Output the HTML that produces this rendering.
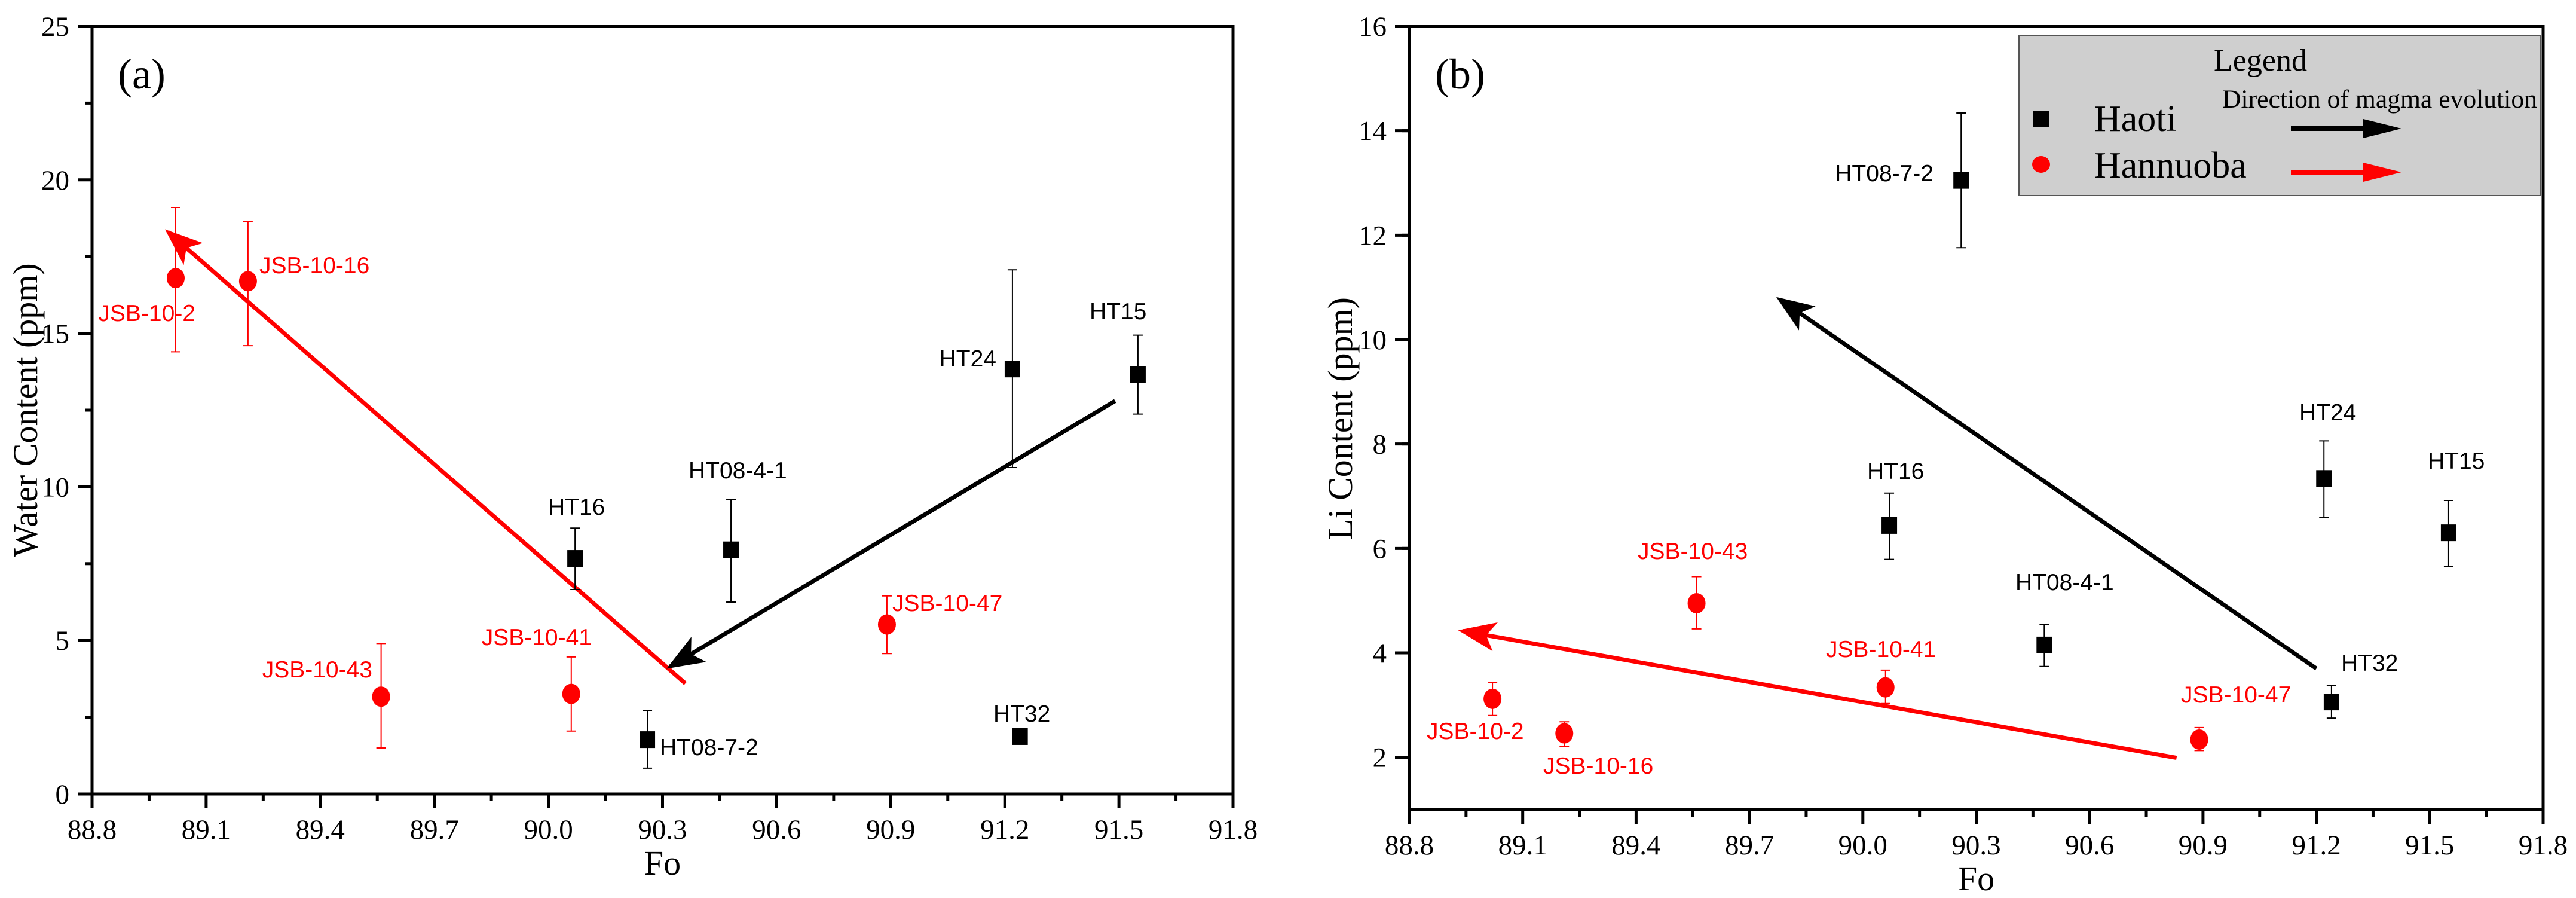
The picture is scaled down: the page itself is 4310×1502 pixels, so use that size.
<!DOCTYPE html>
<html><head><meta charset="utf-8">
<style>
html,body{margin:0;padding:0;background:#fff;}
svg{display:block;}
</style></head>
<body>
<svg id="fig" width="4310" height="1502" viewBox="0 0 4310 1502" xmlns="http://www.w3.org/2000/svg">
<defs>
<marker id="ahB" markerWidth="9" markerHeight="7" refX="8" refY="3.5" orient="auto" markerUnits="strokeWidth"><path d="M0,0 L9,3.5 L0,7 L2.2,3.5 Z" fill="#000"/></marker>
<marker id="ahR" markerWidth="9" markerHeight="7" refX="8" refY="3.5" orient="auto" markerUnits="strokeWidth"><path d="M0,0 L9,3.5 L0,7 L2.2,3.5 Z" fill="#f00"/></marker>
</defs>
</svg>
<script>
// ---- data ----
const xTicks = [88.8, 89.1, 89.4, 89.7, 90.0, 90.3, 90.6, 90.9, 91.2, 91.5, 91.8];
const xTickLabels = ["88.8","89.1","89.4","89.7","90.0","90.3","90.6","90.9","91.2","91.5","91.8"];
const waterTicks = [0, 5, 10, 15, 20, 25];
const liTicks = [2, 4, 6, 8, 10, 12, 14, 16];

const hannNames = ["JSB-10-2","JSB-10-16","JSB-10-43","JSB-10-41","JSB-10-47"];
const hannFo = [89.02, 89.21, 89.56, 90.06, 90.89];
const hannWater = [16.8, 16.7, 3.17, 3.26, 5.52];
const hannWaterHi = [19.1, 18.65, 4.9, 4.46, 6.45];
const hannWaterLo = [14.4, 14.6, 1.5, 2.05, 4.57];
const hannLi = [3.12, 2.46, 4.95, 3.34, 2.34];
const hannLiHi = [3.43, 2.68, 5.46, 3.67, 2.57];
const hannLiLo = [2.80, 2.21, 4.46, 3.03, 2.13];

const haotiNames = ["HT16","HT08-4-1","HT08-7-2","HT24","HT15","HT32"];
const haotiFo = [90.07, 90.48, 90.26, 91.22, 91.55, 91.24];
const haotiWater = [7.67, 7.95, 1.77, 13.84, 13.66, 1.87];
const haotiWaterHi = [8.66, 9.6, 2.72, 17.07, 14.94, 1.87];
const haotiWaterLo = [6.66, 6.25, 0.84, 10.63, 12.37, 1.87];
const haotiLi = [6.44, 4.15, 13.05, 7.34, 6.30, 3.06];
const haotiLiHi = [7.06, 4.55, 14.34, 8.06, 6.92, 3.37];
const haotiLiLo = [5.79, 3.74, 11.76, 6.59, 5.66, 2.75];

// arrows [x0,y0,x1(tip),y1]
const waterRedArrow = [90.36, 3.6, 89.0, 18.3];
const waterBlackArrow = [91.49, 12.8, 90.32, 4.15];
const liBlackArrow = [91.20, 3.70, 89.78, 10.77];
const liRedArrow = [90.83, 1.99, 88.94, 4.42];

// ---- drawing ----
const svg = document.getElementById('fig');
const NS = 'http://www.w3.org/2000/svg';
const SERIF = '"Liberation Serif", "Times New Roman", serif';
const SANS = '"Liberation Sans", Arial, sans-serif';
function mk(tag, attrs, parent){
  const e = document.createElementNS(NS, tag);
  for (const k in attrs) e.setAttribute(k, attrs[k]);
  (parent||svg).appendChild(e);
  return e;
}

function panel(cfg){
  const g = mk('g', {});
  
  
  const sx = v => cfg.x0 + (v - 88.8) / 3.0 * (cfg.x1 - cfg.x0);
  const sy = v => cfg.y1 - (v - cfg.ymin) / (cfg.ymax - cfg.ymin) * (cfg.y1 - cfg.y0);

  const fr = mk('rect', {x:cfg.x0, y:cfg.y0, width:cfg.x1-cfg.x0, height:cfg.y1-cfg.y0, fill:'none', stroke:'#000', 'stroke-width':5}, g);
  
  

  xTicks.forEach((t,i)=>{
    const x = sx(t);
    mk('line', {x1:x, y1:cfg.y1, x2:x, y2:cfg.y1+24, stroke:'#000','stroke-width':5}, g);
    const tl = mk('text', {x:x, y:cfg.y1+75, 'text-anchor':'middle', 'font-family':SERIF, 'font-size':47, fill:'#000'}, g);
    tl.textContent = xTickLabels[i];
    
    
    if (i < xTicks.length-1){
      const xm = sx(t + 0.15);
      mk('line', {x1:xm, y1:cfg.y1, x2:xm, y2:cfg.y1+12, stroke:'#000','stroke-width':5}, g);
    }
  });
  cfg.yTicks.forEach((t,i)=>{
    const y = sy(t);
    mk('line', {x1:cfg.x0-24, y1:y, x2:cfg.x0, y2:y, stroke:'#000','stroke-width':5}, g);
    const tl = mk('text', {x:cfg.x0-38, y:y+16, 'text-anchor':'end', 'font-family':SERIF, 'font-size':47, fill:'#000'}, g);
    tl.textContent = String(t);
    
    
  });
  for (let v = cfg.ymin + cfg.minor; v < cfg.ymax; v += cfg.minor*2){
    if (v <= cfg.ymin) continue;
    const y = sy(v);
    mk('line', {x1:cfg.x0-12, y1:y, x2:cfg.x0, y2:y, stroke:'#000','stroke-width':5}, g);
  }

  const xt = mk('text', {x:(cfg.x0+cfg.x1)/2, y:cfg.y1+135, 'text-anchor':'middle', 'font-family':SERIF, 'font-size':58, fill:'#000'}, g);
  xt.textContent = 'Fo';
  
  
  const yt = mk('text', {x:0, y:0, 'text-anchor':'middle', 'font-family':SERIF, 'font-size':58, fill:'#000', transform:`translate(${cfg.ytx},${cfg.yty}) rotate(-90)`}, g);
  yt.textContent = cfg.ytitle;
  
  
  const pl = mk('text', {x:cfg.x0+43, y:cfg.y0+104, 'font-family':SERIF, 'font-size':72, fill:'#000'}, g);
  pl.textContent = cfg.letter;
  
  

  [[cfg.redArrow,'#f00','url(#ahR)','red-arrow'],[cfg.blackArrow,'#000','url(#ahB)','black-arrow']].forEach(a=>{
    const d = a[0];
    const ln = mk('line', {x1:sx(d[0]), y1:sy(d[1]), x2:sx(d[2]), y2:sy(d[3]), stroke:a[1], 'stroke-width':7, 'marker-end':a[2]}, g);
    
    
  });

  function series(fo, val, hi, lo, names, color, shape, labelPos){
    fo.forEach((f,i)=>{
      const x = sx(f);
      if (hi[i] !== lo[i]){
        mk('line', {x1:x, y1:sy(hi[i]), x2:x, y2:sy(lo[i]), stroke:color, 'stroke-width':2}, g);
        mk('line', {x1:x-8, y1:sy(hi[i]), x2:x+8, y2:sy(hi[i]), stroke:color, 'stroke-width':2}, g);
        mk('line', {x1:x-8, y1:sy(lo[i]), x2:x+8, y2:sy(lo[i]), stroke:color, 'stroke-width':2}, g);
      }
      let m;
      if (shape === 'sq'){
        m = mk('rect', {x:x-13, y:sy(val[i])-14, width:26, height:28, fill:color}, g);
      } else {
        m = mk('ellipse', {cx:x, cy:sy(val[i]), rx:15, ry:17, fill:color}, g);
      }
      
      
      const lp = labelPos[i];
      const t = mk('text', {x:lp[0], y:lp[1], 'text-anchor':lp[2], 'font-family':SANS, 'font-size':39, fill:color}, g);
      t.textContent = names[i];
      
      
    });
  }
  series(hannFo, cfg.hann, cfg.hannHi, cfg.hannLo, hannNames, '#f00', 'ci', cfg.hannLabels);
  series(haotiFo, cfg.haoti, cfg.haotiHi, cfg.haotiLo, haotiNames, '#000', 'sq', cfg.haotiLabels);
}

panel({name:'water-panel', letter:'(a)', x0:154, x1:2063, y0:44, y1:1328, ymin:0, ymax:25, yTicks:waterTicks, minor:2.5,
  ytitle:'Water Content (ppm)', ytx:62, yty:686,
  hann:hannWater, hannHi:hannWaterHi, hannLo:hannWaterLo,
  haoti:haotiWater, haotiHi:haotiWaterHi, haotiLo:haotiWaterLo,
  redArrow:waterRedArrow, blackArrow:waterBlackArrow,
  hannLabels:[[327,537,'end'],[434,457,'start'],[623,1133,'end'],[990,1079,'end'],[1493,1022,'start']],
  haotiLabels:[[917,861,'start'],[1152,800,'start'],[1104,1263,'start'],[1667,613,'end'],[1823,534,'start'],[1662,1207,'start']]
});
panel({name:'li-panel', letter:'(b)', x0:2358, x1:4255, y0:44, y1:1354, ymin:1, ymax:16, yTicks:liTicks, minor:1,
  ytitle:'Li Content (ppm)', ytx:2262, yty:700,
  hann:hannLi, hannHi:hannLiHi, hannLo:hannLiLo,
  haoti:haotiLi, haotiHi:haotiLiHi, haotiLo:haotiLiLo,
  redArrow:liRedArrow, blackArrow:liBlackArrow,
  hannLabels:[[2387,1236,'start'],[2582,1294,'start'],[2740,935,'start'],[3055,1099,'start'],[3649,1175,'start']],
  haotiLabels:[[3124,801,'start'],[3372,987,'start'],[3235,303,'end'],[3847,703,'start'],[4062,784,'start'],[3917,1122,'start']]
});

// legend
const lg = mk('g', {});


mk('rect', {x:3378, y:59, width:873, height:268, fill:'#cfcfcf', stroke:'#555', 'stroke-width':2}, lg);
const lt = mk('text', {x:3782, y:118, 'text-anchor':'middle', 'font-family':SERIF, 'font-size':52, fill:'#000'}, lg);
lt.textContent = 'Legend';


const ld = mk('text', {x:3718, y:180, 'font-family':SERIF, 'font-size':43, fill:'#000', textLength:527, lengthAdjust:'spacingAndGlyphs'}, lg);
ld.textContent = 'Direction of magma evolution';


mk('rect', {x:3402, y:186, width:26, height:26, fill:'#000'}, lg);
mk('ellipse', {cx:3415, cy:275, rx:15, ry:14, fill:'#f00'}, lg);
const l1 = mk('text', {x:3504, y:219, 'font-family':SERIF, 'font-size':62, fill:'#000'}, lg);
l1.textContent = 'Haoti';


const l2 = mk('text', {x:3504, y:297, 'font-family':SERIF, 'font-size':62, fill:'#000'}, lg);
l2.textContent = 'Hannuoba';


[[215,'#000'],[288,'#f00']].forEach(a=>{
  mk('rect', {x:3833, y:a[0]-4, width:125, height:8, fill:a[1]}, lg);
  mk('path', {d:`M3954,${a[0]-16} L4018,${a[0]} L3954,${a[0]+16} Z`, fill:a[1]}, lg);
});
</script>
</body></html>
